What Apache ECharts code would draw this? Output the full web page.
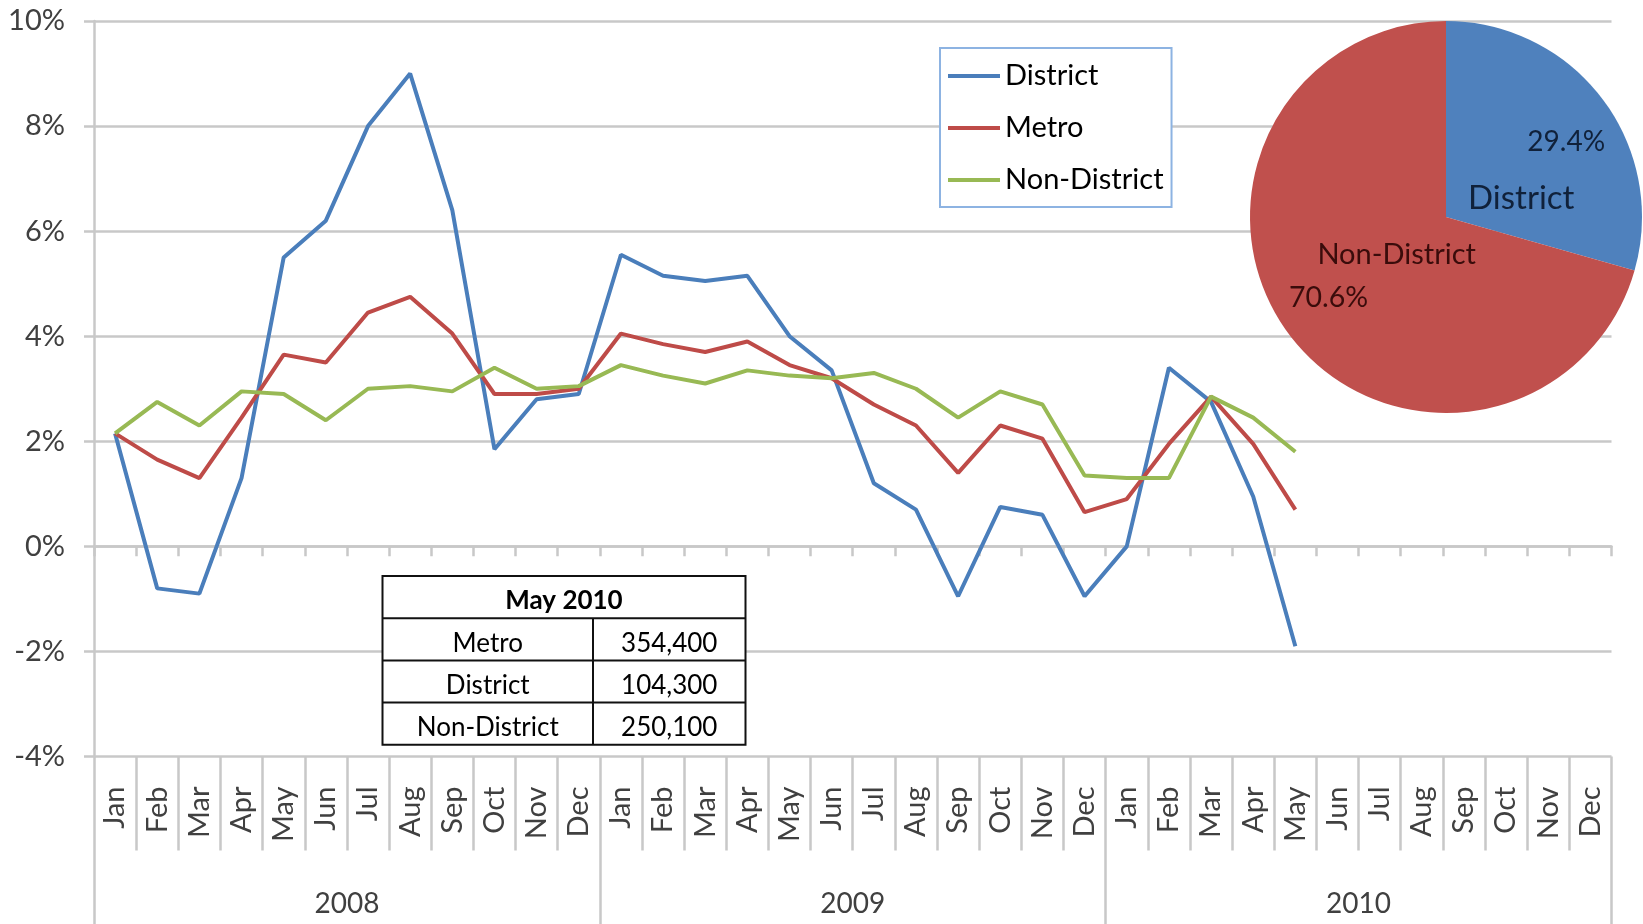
<!DOCTYPE html>
<html>
<head>
<meta charset="utf-8">
<title>District / Metro / Non-District</title>
<script src="https://cdn.jsdelivr.net/npm/echarts@6/dist/echarts.min.js"></script>
<style>
html, body { margin: 0; padding: 0; background: #fff; }
#chart { width: 1643px; height: 924px; }
</style>
</head>
<body>
<div id="chart"></div>
<script>
var monthNames = ['Jan', 'Feb', 'Mar', 'Apr', 'May', 'Jun', 'Jul', 'Aug', 'Sep', 'Oct', 'Nov', 'Dec'];
var years = ['2008', '2009', '2010'];
var months = monthNames.concat(monthNames, monthNames);

// year-over-year change, %, Jan 2008 .. May 2010
var district = [2.15, -0.8, -0.9, 1.3, 5.5, 6.2, 8.0, 9.0, 6.4, 1.85, 2.8, 2.9,
    5.55, 5.15, 5.05, 5.15, 4.0, 3.35, 1.2, 0.7, -0.95, 0.75, 0.6, -0.95,
    0.0, 3.4, 2.75, 0.95, -1.9];
var metro = [2.15, 1.65, 1.3, 2.45, 3.65, 3.5, 4.45, 4.75, 4.05, 2.9, 2.9, 3.0,
    4.05, 3.85, 3.7, 3.9, 3.45, 3.2, 2.7, 2.3, 1.4, 2.3, 2.05, 0.65,
    0.9, 1.95, 2.85, 1.95, 0.7];
var nonDistrict = [2.15, 2.75, 2.3, 2.95, 2.9, 2.4, 3.0, 3.05, 2.95, 3.4, 3.0, 3.05,
    3.45, 3.25, 3.1, 3.35, 3.25, 3.2, 3.3, 3.0, 2.45, 2.95, 2.7, 1.35,
    1.3, 1.3, 2.85, 2.45, 1.8];

var pieNames = ['District', 'Non-District'];
var pieValues = [29.4, 70.6];

var tableTitle = 'May 2010';
var tableLabels = ['Metro', 'District', 'Non-District'];
var tableValues = ['354,400', '104,300', '250,100'];

var FONT = 'Lato, "Open Sans", sans-serif';
var gridGray = '#c8c8c8';
var lineColors = ['#4a7ebb', '#be4b48', '#98b954'];
var pieColors = ['#4f81bd', '#c0504d'];

var myChart = echarts.init(document.getElementById('chart'), null, { renderer: 'canvas' });

// little table (graphic), built from the arrays above; sits above the grid lines
var tb = { left: 380, top: 575, w: 363, rowH: 42.2, col: 210.5, textDy: 4, z: 100 };
var tableParts = [{
    type: 'rect', z: tb.z,
    shape: { x: 0, y: 0, width: tb.w, height: tb.rowH * 4 },
    style: { fill: '#fff', stroke: '#111', lineWidth: 2 }
}, {
    type: 'text', z: tb.z + 1, x: tb.w / 2, y: tb.rowH / 2 + tb.textDy,
    style: { text: tableTitle, fontFamily: FONT, fontSize: 26, fontWeight: 'bold', fill: '#000', align: 'center', verticalAlign: 'middle' }
}, {
    type: 'line', z: tb.z + 1,
    shape: { x1: tb.col, y1: tb.rowH, x2: tb.col, y2: tb.rowH * 4 },
    style: { stroke: '#111', lineWidth: 2 }
}];
for (var i = 0; i < tableLabels.length; i++) {
    var ry = tb.rowH * (i + 1);
    tableParts.push({
        type: 'line', z: tb.z + 1,
        shape: { x1: 0, y1: ry, x2: tb.w, y2: ry },
        style: { stroke: '#111', lineWidth: 2 }
    });
    tableParts.push({
        type: 'text', z: tb.z + 1, x: tb.col / 2, y: ry + tb.rowH / 2 + tb.textDy,
        style: { text: tableLabels[i], fontFamily: FONT, fontSize: 26, fill: '#000', align: 'center', verticalAlign: 'middle' }
    });
    tableParts.push({
        type: 'text', z: tb.z + 1, x: tb.col + (tb.w - tb.col) / 2, y: ry + tb.rowH / 2 + tb.textDy,
        style: { text: tableValues[i], fontFamily: FONT, fontSize: 26, fill: '#000', align: 'center', verticalAlign: 'middle' }
    });
}

// pie labels: first line right-aligned, second line left-aligned
var pieLabelStyle = [
    { w: 137, f1: 28, f2: 33, lh: 57, color: '#10213a', shift: [10, 14] },
    { w: 187, f1: 29, f2: 28.5, lh: 43, color: '#3a0c0b', shift: [17, -2] }
];
var pieData = pieNames.map(function (n, k) {
    var s = pieLabelStyle[k];
    return {
        name: n,
        value: pieValues[k],
        itemStyle: { color: pieColors[k] },
        label: {
            rich: {
                r: { width: s.w, align: 'right', fontSize: s.f1, lineHeight: s.lh, color: s.color, fontFamily: FONT },
                l: { width: s.w, align: 'left', fontSize: s.f2, lineHeight: s.lh, color: s.color, fontFamily: FONT }
            }
        }
    };
});

option = {
    animation: false,
    backgroundColor: '#fff',
    textStyle: { fontFamily: FONT },
    grid: {
        left: 94, right: 31.5, top: 21, bottom: 167.5,
        containLabel: false,
        outerBoundsMode: 'none'
    },
    legend: {
        data: ['District', 'Metro', 'Non-District'],
        orient: 'vertical',
        left: 940, top: 48,
        icon: 'rect',
        itemWidth: 52, itemHeight: 4, itemGap: 22,
        padding: [13, 8, 12, 8],
        borderColor: '#8db3e2', borderWidth: 2,
        backgroundColor: '#fff',
        textStyle: { fontFamily: FONT, fontSize: 29, color: '#000', lineHeight: 30 }
    },
    xAxis: [{
        // axis line sitting on 0%
        type: 'category',
        data: months,
        boundaryGap: true,
        axisLine: { onZero: true, lineStyle: { color: gridGray, width: 2.5 } },
        axisTick: { show: true, interval: 0, length: 10, lineStyle: { color: gridGray, width: 2.5 } },
        axisLabel: { show: false },
        splitLine: { show: false }
    }, {
        // month labels under the plot
        type: 'category',
        data: months,
        position: 'bottom',
        axisLine: { show: false, onZero: false },
        axisTick: { show: true, interval: 0, length: 94, lineStyle: { color: gridGray, width: 2.5 } },
        axisLabel: { interval: 0, rotate: 90, margin: 30, fontSize: 29, color: '#404040', fontFamily: FONT },
        splitLine: { show: false }
    }, {
        // year labels
        type: 'category',
        data: years,
        position: 'bottom',
        axisLine: { show: false, onZero: false },
        axisTick: { show: true, interval: 0, length: 170, lineStyle: { color: gridGray, width: 2.5 } },
        axisLabel: { interval: 0, margin: 133, fontSize: 28, color: '#404040', fontFamily: FONT },
        splitLine: { show: false }
    }],
    yAxis: {
        type: 'value',
        min: -4, max: 10, interval: 2,
        axisLine: { show: true, lineStyle: { color: gridGray, width: 2.5 } },
        axisTick: { show: true, length: 10, lineStyle: { color: gridGray, width: 2.5 } },
        splitLine: { show: true, lineStyle: { color: gridGray, width: 2.5 } },
        axisLabel: { formatter: '{value}%', margin: 29, fontSize: 29, color: '#404040', fontFamily: FONT }
    },
    graphic: [{
        type: 'group',
        left: tb.left, top: tb.top,
        z: tb.z,
        children: tableParts
    }],
    series: [{
        name: 'District', type: 'line', data: district,
        showSymbol: false, symbol: 'none',
        lineStyle: { width: 4, color: lineColors[0] },
        itemStyle: { color: lineColors[0] }
    }, {
        name: 'Metro', type: 'line', data: metro,
        showSymbol: false, symbol: 'none',
        lineStyle: { width: 4, color: lineColors[1] },
        itemStyle: { color: lineColors[1] }
    }, {
        name: 'Non-District', type: 'line', data: nonDistrict,
        showSymbol: false, symbol: 'none',
        lineStyle: { width: 4, color: lineColors[2] },
        itemStyle: { color: lineColors[2] }
    }, {
        name: 'May 2010 share', type: 'pie',
        center: [1446, 217], radius: 196,
        startAngle: 90, clockwise: true,
        z: 5,
        itemStyle: { borderWidth: 0 },
        emphasis: { disabled: true },
        label: {
            show: true,
            position: 'inner',
            formatter: function (p) {
                if (p.dataIndex === 0) {
                    return '{r|' + p.percent.toFixed(1) + '%}\n{l|' + p.name + '}';
                }
                return '{r|' + p.name + '}\n{l|' + p.percent.toFixed(1) + '%}';
            }
        },
        labelLayout: function (params) {
            var s = pieLabelStyle[params.dataIndex];
            return { dx: s.shift[0], dy: s.shift[1] };
        },
        labelLine: { show: false },
        data: pieData
    }]
};

myChart.setOption(option);
</script>
</body>
</html>
